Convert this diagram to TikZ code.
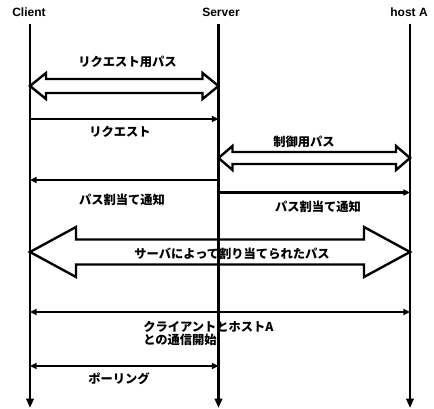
\documentclass[tikz,border=0pt]{standalone}
\usepackage{fontspec}
\setmainfont{Liberation Sans}
\newfontfamily\jp{Noto Sans CJK JP}
\usetikzlibrary{arrows.meta}
\newcommand\hollowdbl[6]{\draw[hollow] (#1,#3) -- ({#1+#6},{#3-#5}) -- ({#1+#6},{#3-#4}) -- ({#2-#6},{#3-#4}) -- ({#2-#6},{#3-#5}) -- (#2,#3) -- ({#2-#6},{#3+#5}) -- ({#2-#6},{#3+#4}) -- ({#1+#6},{#3+#4}) -- ({#1+#6},{#3+#5}) -- cycle;}
\begin{document}
\begin{tikzpicture}[x=0.75pt,y=-0.75pt,
  life/.style={line width=2pt,-{Triangle[length=7pt,width=5.5pt]}},
  msg/.style={line width=1.6pt},
  tipr/.style={-{Triangle[length=5pt,width=4.5pt]}},
  tipb/.style={{Triangle[length=5pt,width=4.5pt]}-{Triangle[length=5pt,width=4.5pt]}},
  hollow/.style={line width=1.8pt,line join=miter},
  lbl/.style={font=\jp\bfseries\fontsize{9.2pt}{10pt}\selectfont, inner sep=0pt},
  head/.style={font=\bfseries\fontsize{9pt}{11pt}\selectfont, inner sep=0pt}]
\useasboundingbox (0,0) rectangle (434,409);

% headers
\node[head] (client) at (29,12) {Client};
\node[head] (server) at (221,12) {Server};
\node[head] (host) at (409,12) {host A};

% hollow double arrows
\hollowdbl{30}{218.5}{86}{7}{13}{16}
\hollowdbl{218.5}{410}{158}{6}{12}{14}
\hollowdbl{30}{410}{252}{12.5}{25}{46}

% lifelines
\coordinate (cT) at (30,24);   \coordinate (cB) at (30,408);
\coordinate (sT) at (218.5,24); \coordinate (sB) at (218.5,408);
\coordinate (hT) at (410,24);  \coordinate (hB) at (410,408);
\draw[life] (cT) -- (cB);
\draw[life] (sT) -- (sB);
\draw[life] (hT) -- (hB);

% y levels
\coordinate (y1) at (0,119);
\coordinate (y2) at (0,180);
\coordinate (y3) at (0,192.5);
\coordinate (y4) at (0,312);
\coordinate (y5) at (0,366);

\draw[msg,tipr] (cT |- y1) -- (sT |- y1);
\draw[msg,tipr] (sT |- y2) -- (cT |- y2);
\draw[msg,tipr] (sT |- y3) -- (hT |- y3);
\draw[msg,tipb] (cT |- y4) -- (hT |- y4);
\draw[msg,tipb] (cT |- y5) -- (sT |- y5);

% labels
\node[lbl] (l1) at (127.5,62) {リクエスト用パス};
\node[lbl] (l2) at (120,132) {リクエスト};
\node[lbl] (l3) at (304,142) {制御用パス};
\node[lbl] (l4) at (122,200) {パス割当て通知};
\node[lbl] (l5) at (318,207) {パス割当て通知};
\node[lbl] (l6) at (232,254) {サーバによって割り当てられたパス};
\node[lbl,align=left,anchor=north west] (l7) at (143,321) {クライアントとホストA\\との通信開始};
\node[lbl] (l8) at (119,379) {ポーリング};
\end{tikzpicture}
\end{document}
